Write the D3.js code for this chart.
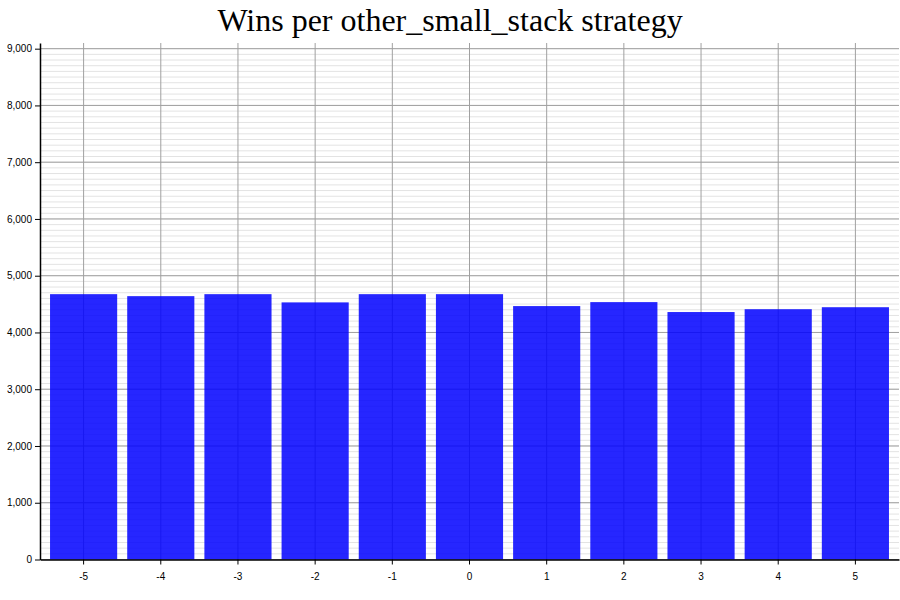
<!DOCTYPE html>
<html>
<head>
<meta charset="utf-8">
<script src="https://d3js.org/d3.v7.min.js"></script>
<style>body{margin:0;background:#fff}</style>
</head>
<body>
<script>
// data
var categories = ["-5","-4","-3","-2","-1","0","1","2","3","4","5"];
var wins = [4675, 4640, 4675, 4530, 4675, 4675, 4465, 4535, 4360, 4410, 4445];
var yTicks = [0,1000,2000,3000,4000,5000,6000,7000,8000,9000];

var margin = {top: 43, right: 1, bottom: 40.5, left: 40},
    width = 900 - margin.left - margin.right,
    height = 600 - margin.top - margin.bottom;

var svg = d3.select("body").append("svg").attr("width",900).attr("height",600);

svg.append("text").attr("x",450).attr("y",31).attr("text-anchor","middle")
    .style("font-family","'Liberation Serif', serif").style("font-size","32px")
    .text("Wins per other_small_stack strategy");

var g = svg.append("g").attr("transform","translate("+margin.left+","+margin.top+")");

var x = d3.scaleBand().domain(categories).range([0,width]).padding(0.13);
var y = d3.scaleLinear().domain([0,9100]).range([height,0]);

// minor grid every 100
g.selectAll(".minor").data(d3.range(0,9100,100)).enter().append("line")
    .attr("x1",0).attr("x2",width).attr("y1",function(d){return y(d);}).attr("y2",function(d){return y(d);})
    .attr("stroke","#e3e3e3").attr("stroke-width",1);
// major grid
g.selectAll(".major").data(yTicks).enter().append("line")
    .attr("x1",0).attr("x2",width).attr("y1",function(d){return y(d);}).attr("y2",function(d){return y(d);})
    .attr("stroke","#a0a0a0").attr("stroke-width",1);
g.selectAll(".vgrid").data(categories).enter().append("line")
    .attr("x1",function(d){return x(d)+x.bandwidth()/2;}).attr("x2",function(d){return x(d)+x.bandwidth()/2;})
    .attr("y1",0).attr("y2",height).attr("stroke","#a0a0a0").attr("stroke-width",1);

g.selectAll(".bar").data(wins).enter().append("rect")
    .attr("x",function(d,i){return x(categories[i]);})
    .attr("width",x.bandwidth())
    .attr("y",function(d){return y(d);})
    .attr("height",function(d){return height-y(d);})
    .attr("fill","#0000ff").attr("fill-opacity",0.85);

var ya = g.append("g").call(d3.axisLeft(y).tickValues(yTicks).tickSize(5).tickSizeOuter(0));
var xa = g.append("g").attr("transform","translate(0,"+height+")").call(d3.axisBottom(x).tickSize(5).tickSizeOuter(0));
[ya,xa].forEach(function(a){
    a.selectAll("text").style("font-family","Arial, 'Liberation Sans', sans-serif").style("font-size","10px").attr("fill","#000");
    a.select(".domain").attr("stroke","#000").attr("stroke-width",1.5);
});
xa.selectAll("text").attr("dy","1.2em");
</script>
</body>
</html>
